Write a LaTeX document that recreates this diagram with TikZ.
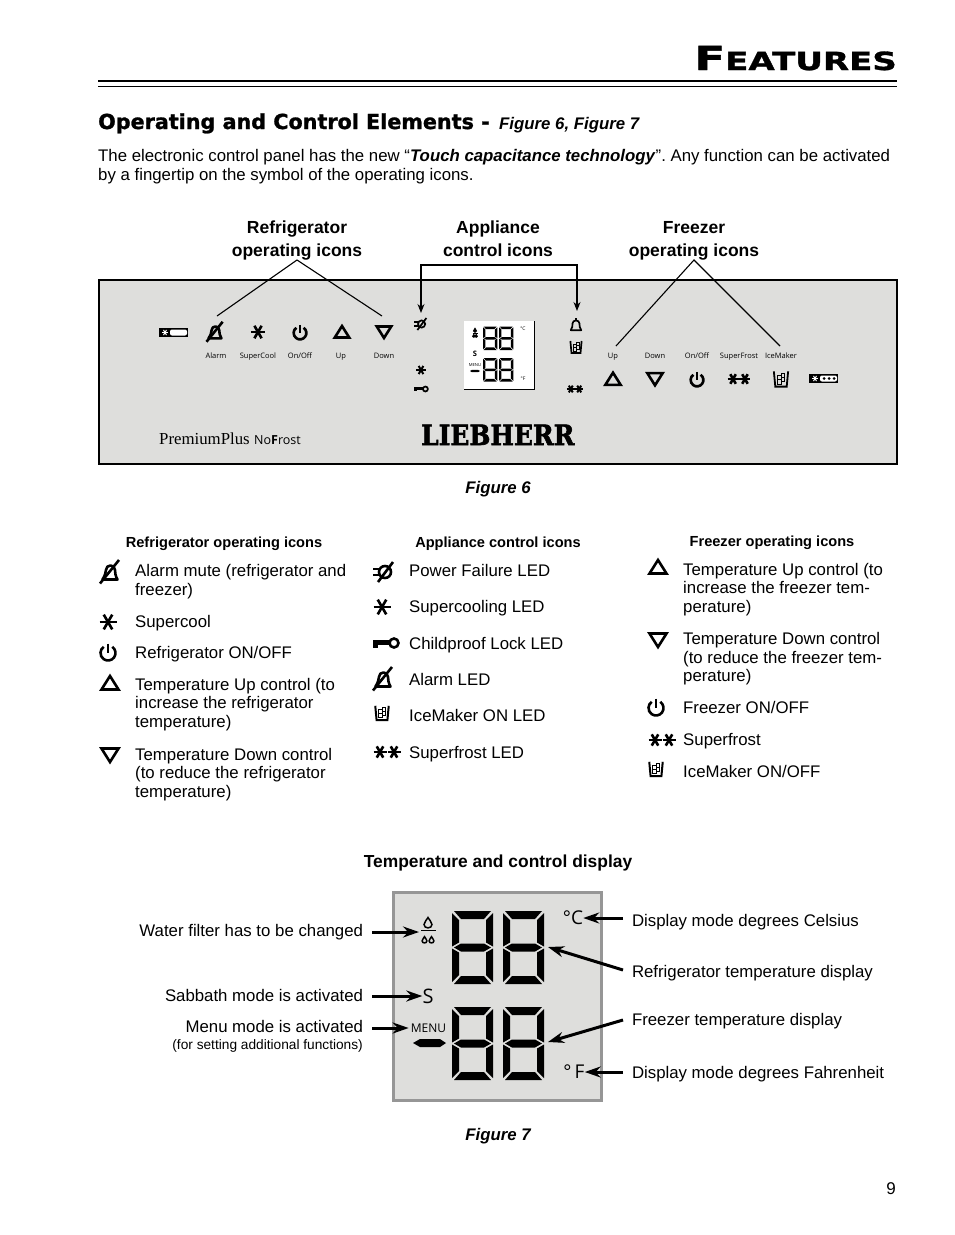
\documentclass[tikz,border=0pt]{standalone}
\usepackage{fontspec}
\usepackage{graphicx}
\setmainfont{Liberation Sans}
\newfontfamily\panelfont{Open Sans}
\newfontfamily\headfont[BoldFeatures={FakeBold=1.2}]{DejaVu Sans}
\newfontfamily\logofont[BoldFeatures={FakeBold=2.2}]{DejaVu Serif}
\newfontfamily\brandfont{Liberation Serif}
\usetikzlibrary{positioning,arrows.meta,calc}
\definecolor{panelgray}{HTML}{DEDEDC}
\definecolor{framegray}{HTML}{969696}
\tikzset{
  iconpen/.style={line width=2.6pt},
  bodytext/.style={font=\fontsize{16.8}{18.6}\selectfont,align=left,anchor=west,inner sep=0pt},
  colhead/.style={font=\fontsize{14.6}{18}\selectfont\bfseries,inner sep=0pt},
  grouplabel/.style={font=\fontsize{17.5}{23}\selectfont\bfseries,align=center,anchor=south,inner sep=0pt},
  figlabel/.style={font=\fontsize{16.8}{18}\selectfont\bfseries\itshape,inner sep=0pt},
  tinylabel/.style={font=\fontsize{7.5}{8}\selectfont\panelfont,anchor=base,inner sep=0pt},
  leftlabel/.style={font=\fontsize{16.8}{18}\selectfont,anchor=east,inner sep=0pt,outer sep=9pt},
  rightlabel/.style={font=\fontsize{16.8}{18}\selectfont,anchor=west,inner sep=0pt,outer sep=9pt},
  displaytext/.style={font=\panelfont,inner sep=0pt},
  panelarrow/.style={-{Stealth[length=9pt,width=7pt]},line width=1.1pt},
  bigarrow/.style={-{Stealth[length=16pt,width=11pt]},line width=3pt},
  pics/alarmicon/.style={code={
    \draw[iconpen,line join=round] (-7.5,-7.5) -- (7.5,-7.5) .. controls (5.5,-4) and (5,-1) .. (5,2) .. controls (5,8) and (-4,8) .. (-4,2) .. controls (-4,-1) and (-5.5,-4) .. cycle;
    \draw[iconpen] (-10,-11.5) -- (9,12);
  }},
  pics/bellicon/.style={code={
    \draw[iconpen,line join=round] (-7.5,-7.5) -- (7.5,-7.5) .. controls (5,-4) and (5,-1) .. (5,2) .. controls (5,8) and (-5,8) .. (-5,2) .. controls (-5,-1) and (-5,-4) .. cycle;
    \draw[iconpen] (0,7) -- (0,9.5);
  }},
  pics/staricon/.style={code={
    \foreach \a in {0,60,120} \draw[iconpen] (\a:-8.5) -- (\a:8.5);
  }},
  pics/doublestar/.style={code={
    \foreach \a in {0,60,120} {
      \draw[iconpen] ($(-7,0)+(\a:-6.5)$) -- ($(-7,0)+(\a:6.5)$);
      \draw[iconpen] ($(7,0)+(\a:-6.5)$) -- ($(7,0)+(\a:6.5)$);
    }
  }},
  pics/powericon/.style={code={
    \draw[iconpen] (55:7.5) arc (55:-235:7.5);
    \draw[iconpen] (0,9.5) -- (0,0);
  }},
  pics/upicon/.style={code={
    \draw[iconpen] (-8.5,-6.5) -- (8.5,-6.5) -- (0,7) -- cycle;
  }},
  pics/downicon/.style={code={
    \draw[iconpen] (-8.5,6.5) -- (8.5,6.5) -- (0,-7) -- cycle;
  }},
  pics/failicon/.style={code={
    \draw[iconpen] (1,0) circle (6);
    \draw[iconpen] (-6,-10) -- (9,10);
    \draw[iconpen] (-11,3) -- (-5,3) (-11,-3) -- (-5,-3);
  }},
  pics/keyicon/.style={code={
    \fill (-13,-4.5) rectangle (-8,3);
    \fill (-13,-1.5) rectangle (4,3);
    \draw[iconpen] (8,0) circle (4.5);
  }},
  pics/iceicon/.style={code={
    \draw[iconpen] (-7.5,8) -- (-6,-8) -- (6,-8) -- (7.5,8);
    \draw[line width=1pt] (-4,-5.5) rectangle (0,-1) (0,-3) rectangle (4,1.5) (-4,-1) rectangle (0,3.5) (0,1.5) rectangle (4,6);
  }},
  pics/digitshape/.style={code={
    \fill (2,73) -- (39,73) -- (32,65) -- (9,65) -- cycle;
    \fill (2,0) -- (39,0) -- (32,8) -- (9,8) -- cycle;
    \fill (2,36.5) -- (9,40.5) -- (32,40.5) -- (39,36.5) -- (32,32.5) -- (9,32.5) -- cycle;
    \fill (0,71) -- (7,64) -- (7,41.5) -- (0,37.5) -- cycle;
    \fill (0,35.5) -- (7,31.5) -- (7,9) -- (0,2) -- cycle;
    \fill (41,71) -- (34,64) -- (34,41.5) -- (41,37.5) -- cycle;
    \fill (41,35.5) -- (34,31.5) -- (34,9) -- (41,2) -- cycle;
  }},
  pics/dropicon/.style={code={
    \draw[line width=1.5pt] (0,5.5) .. controls (-1,3) and (-4,1) .. (-4,-1.5) .. controls (-4,-6) and (4,-6) .. (4,-1.5) .. controls (4,1) and (1,3) .. (0,5.5) -- cycle;
  }},
}
\begin{document}
\frenchspacing
\begin{tikzpicture}[x=1pt,y=1pt]
\useasboundingbox (0,0) rectangle (954,-1235);
\fill[white] (0,0) rectangle (954,-1235);

\node (pagetitle) [anchor=base east,inner sep=0pt] at (897,-70) {\scalebox{1.36}[1]{\headfont\bfseries\fontsize{33}{33}\selectfont F\fontsize{25}{25}\selectfont EATURES}};
\draw[line width=1.6pt] (98,-81) -- (897,-81);
\draw[line width=1.4pt] (98,-86.5) -- (897,-86.5);
\node (sectionhead) [anchor=base west,inner sep=0pt] at (98,-129) {\headfont\bfseries\fontsize{20.7}{21}\selectfont Operating and Control Elements -};
\node (sectionfig) [figlabel,anchor=base west] at (499,-129) {Figure 6, Figure 7};
\node (introtext) [bodytext] at (98,-166.5) {The electronic control panel has the new “\textbf{\textit{Touch capacitance technology}}”. Any function can be activated\\by a fingertip on the symbol of the operating icons.};

\node (reflabel) [grouplabel] at (297,-260) {Refrigerator\\operating icons};
\node (applabel) [grouplabel] at (498,-257) {Appliance\\control icons};
\node (frzlabel) [grouplabel] at (694,-260) {Freezer\\operating icons};

\draw[line width=1.5pt,fill=panelgray] (99,-280) rectangle (897,-464);
\coordinate (alarmtip) at (217,-316);
\coordinate (downtip) at (382,-316);
\coordinate (uptip) at (616,-346);
\coordinate (icetip) at (780,-346);
\coordinate (appbracket) at (498,-265);
\coordinate (failtip) at (421,-313);
\coordinate (belltip) at (577,-311);
\draw[line width=1.1pt] (alarmtip) -- (reflabel.south) -- (downtip);
\draw[line width=1.1pt] (uptip) -- (frzlabel.south) -- (icetip);
\draw[panelarrow] (appbracket) -| (failtip);
\draw[panelarrow] (appbracket) -| (belltip);

\fill (159,-328) rectangle (188,-337);
\fill[white,rounded corners=2pt] (170,-329.5) rectangle (187,-335.5);
\pic[scale=.35,white,iconpen/.style={line width=1pt,white}] at (165,-332.5) {staricon};
\pic[scale=.85] at (215,-332) {alarmicon};
\pic[scale=.85] at (258,-332) {staricon};
\pic[scale=.85] at (300,-333) {powericon};
\pic[scale=.85] at (342,-332) {upicon};
\pic[scale=.85] at (384,-332) {downicon};
\node (lalarm) [tinylabel] at (216,-358) {Alarm};
\node (lcool) [tinylabel] at (258,-358) {SuperCool};
\node (lonoff) [tinylabel] at (300,-358) {On/Off};
\node (lup) [tinylabel] at (341,-358) {Up};
\node (ldown) [tinylabel] at (384,-358) {Down};

\pic[scale=.6,iconpen/.style={line width=1.7pt}] at (421,-324) {failicon};
\pic[scale=.55,iconpen/.style={line width=2pt}] at (421,-370) {staricon};
\pic[scale=.55,iconpen/.style={line width=1.7pt}] at (421,-389) {keyicon};
\pic[scale=.7,iconpen/.style={line width=1.7pt}] at (576,-325) {bellicon};
\pic[scale=.75,iconpen/.style={line width=1.7pt}] at (576,-347) {iceicon};
\pic[scale=.6,iconpen/.style={line width=2pt}] at (575,-389) {doublestar};

\fill[white] (464,-321) rectangle (534,-389);
\draw[line width=.5pt] (464,-389) -- (534,-389) -- (534,-321);
\pic[xscale=.35,yscale=.32] at (483,-350) {digitshape};
\pic[xscale=.35,yscale=.32] at (499,-350) {digitshape};
\pic[xscale=.35,yscale=.32] at (483,-381.5) {digitshape};
\pic[xscale=.35,yscale=.32] at (499,-381.5) {digitshape};
\pic[scale=.3] at (475,-330.5) {dropicon};
\draw[line width=.4pt] (472.5,-333) -- (477.5,-333);
\pic[scale=.2] at (473.8,-336) {dropicon};
\pic[scale=.2] at (476.2,-336) {dropicon};
\node (smalls) [displaytext,font=\fontsize{7.5}{7.5}\selectfont\bfseries\panelfont] at (475,-354) {S};
\node (smallmenu) [displaytext,font=\fontsize{4.2}{4.2}\selectfont\panelfont] at (475,-365) {MENU};
\fill (470,-371) -- (472,-369.8) -- (478,-369.8) -- (480,-371) -- (478,-372.2) -- (472,-372.2) -- cycle;
\node (smallc) [displaytext,font=\fontsize{5}{5}\selectfont\panelfont] at (523,-329) {°C};
\node (smallf) [displaytext,font=\fontsize{5}{5}\selectfont\panelfont] at (523,-379) {°F};

\pic[scale=.9] at (613,-379) {upicon};
\pic[scale=.9] at (655,-379) {downicon};
\pic[scale=.85] at (697,-380) {powericon};
\pic[scale=.85] at (739,-379) {doublestar};
\pic[scale=.95,iconpen/.style={line width=1.8pt}] at (781,-379) {iceicon};
\fill (809,-374) rectangle (838,-383);
\fill[white,rounded corners=2pt] (820,-375.5) rectangle (837,-381.5);
\pic[scale=.35,white,iconpen/.style={line width=1pt,white}] at (815,-378.5) {staricon};
\fill (824,-378.5) circle (1.5) (829,-378.5) circle (1.5) (834,-378.5) circle (1.5);
\node (rup) [tinylabel] at (613,-358) {Up};
\node (rdown) [tinylabel] at (655,-358) {Down};
\node (ronoff) [tinylabel] at (697,-358) {On/Off};
\node (rfrost) [tinylabel] at (739,-358) {SuperFrost};
\node (rice) [tinylabel] at (781,-358) {IceMaker};

\node (brandname) [anchor=base west,inner sep=0pt] at (159,-444) {\brandfont\fontsize{16.8}{16.8}\selectfont PremiumPlus};
\node (brandline) [anchor=base west,inner sep=0pt] at (254,-444) {\panelfont\fontsize{12.5}{12.5}\selectfont No\textbf{F}rost};
\node (logotext) [anchor=base west,inner sep=0pt] at (421,-445) {\scalebox{.89}[1]{\logofont\bfseries\fontsize{28}{28}\selectfont LIEBHERR}};
\node (figsix) [figlabel] at (498,-489) {Figure 6};

\node (refhead) [colhead] at (224,-544) {Refrigerator operating icons};
\node (apphead) [colhead] at (498,-544) {Appliance control icons};
\node (frzhead) [colhead] at (772,-543) {Freezer operating icons};

\pic at (110,-572) {alarmicon};
\pic at (108,-622) {staricon};
\pic at (108,-653) {powericon};
\pic at (110,-683) {upicon};
\pic at (110,-755) {downicon};
\node (itemmute) [bodytext] at (135,-581.5) {Alarm mute (refrigerator and\\freezer)};
\node (itemcool) [bodytext] at (135,-623) {Supercool};
\node (itemrefon) [bodytext] at (135,-654) {Refrigerator ON/OFF};
\node (itemrefup) [bodytext] at (135,-704.5) {Temperature Up control (to\\increase the refrigerator\\temperature)};
\node (itemrefdown) [bodytext] at (135,-774.5) {Temperature Down control\\(to reduce the refrigerator\\temperature)};

\pic at (384,-572) {failicon};
\pic at (382,-607) {staricon};
\pic at (386,-643) {keyicon};
\pic at (383,-679) {alarmicon};
\pic[scale=.9,iconpen/.style={line width=2pt}] at (382,-713) {iceicon};
\pic at (387,-752) {doublestar};
\node (itemfail) [bodytext] at (409,-570) {Power Failure LED};
\node (itemcooling) [bodytext] at (409,-608) {Supercooling LED};
\node (itemlock) [bodytext] at (409,-645) {Childproof Lock LED};
\node (itemalarm) [bodytext] at (409,-679) {Alarm LED};
\node (itemice) [bodytext] at (409,-715) {IceMaker ON LED};
\node (itemfrost) [bodytext] at (409,-754) {Superfrost LED};

\pic at (658,-567) {upicon};
\pic at (658,-640) {downicon};
\pic at (656,-708) {powericon};
\pic at (662,-740) {doublestar};
\pic[scale=.9,iconpen/.style={line width=2pt}] at (656,-769) {iceicon};
\node (itemfrzup) [bodytext] at (683,-589.5) {Temperature Up control (to\\increase the freezer tem-\\perature)};
\node (itemfrzdown) [bodytext] at (683,-659) {Temperature Down control\\(to reduce the freezer tem-\\perature)};
\node (itemfrzon) [bodytext] at (683,-707) {Freezer ON/OFF};
\node (itemfrost2) [bodytext] at (683,-741) {Superfrost};
\node (itemice2) [bodytext] at (683,-771) {IceMaker ON/OFF};

\node (displayhead) [grouplabel,anchor=center,font=\fontsize{17.4}{23}\selectfont\bfseries] at (498,-863) {Temperature and control display};

\draw[line width=3pt,draw=framegray,fill=panelgray] (393.5,-892.5) rectangle (601.5,-1100.5);
\pic at (452,-984) {digitshape};
\pic at (503,-984) {digitshape};
\pic at (452,-1080) {digitshape};
\pic at (503,-1080) {digitshape};
\pic at (428,-923) {dropicon};
\draw[line width=1.2pt] (421,-930.7) -- (436,-930.7);
\pic[scale=.6] at (424.5,-940) {dropicon};
\pic[scale=.6] at (431.5,-940) {dropicon};
\coordinate (dropmark) at (419,-932);
\node (sabbath) [displaytext,font=\fontsize{20}{20}\selectfont\panelfont] at (428,-996) {S};
\node (menutext) [displaytext,font=\fontsize{12}{12}\selectfont\panelfont] at (428.5,-1028) {MENU};
\fill (413,-1043) -- (420,-1039) -- (440,-1039) -- (446,-1043) -- (440,-1047) -- (420,-1047) -- cycle;
\node (degc) [displaytext,font=\fontsize{19}{19}\selectfont\panelfont] at (573,-918) {°C};
\node (degf) [displaytext,font=\fontsize{19}{19}\selectfont\panelfont] at (574,-1072) {°\,F};
\coordinate (upperdigit) at (548,-947);
\coordinate (lowerdigit) at (548,-1042);

\node (waterlabel) [leftlabel] at (372,-932) {Water filter has to be changed};
\node (sabbathlabel) [leftlabel] at (372,-995) {Sabbath mode is activated};
\node (menulabel) [leftlabel] at (372,-1026) {Menu mode is activated};
\node (menunote) [anchor=east,inner sep=0pt,font=\fontsize{13.7}{14}\selectfont] at (363,-1046) {(for setting additional functions)};
\node (clabel) [rightlabel] at (623,-922) {Display mode degrees Celsius};
\node (reflabeltwo) [rightlabel] at (623,-973) {Refrigerator temperature display};
\node (frzlabeltwo) [rightlabel] at (623,-1021) {Freezer temperature display};
\node (flabel) [rightlabel] at (623,-1074) {Display mode degrees Fahrenheit};

\draw[bigarrow] (waterlabel.east) -- (dropmark);
\draw[bigarrow] (sabbathlabel.east |- sabbath) -- (sabbath.west);
\draw[bigarrow,shorten >=2pt] (menulabel.east |- menutext) -- (menutext.west);
\draw[bigarrow] (clabel.west |- degc) -- (degc.east);
\draw[bigarrow] ([yshift=3pt]reflabeltwo.west) -- (upperdigit);
\draw[bigarrow] ([yshift=1pt]frzlabeltwo.west) -- (lowerdigit);
\draw[bigarrow] (flabel.west |- degf) -- (degf.east);

\node (figseven) [figlabel] at (498,-1136) {Figure 7};
\node (pagenumber) [font=\fontsize{17}{18}\selectfont,inner sep=0pt] at (891,-1189) {9};
\end{tikzpicture}
\end{document}
